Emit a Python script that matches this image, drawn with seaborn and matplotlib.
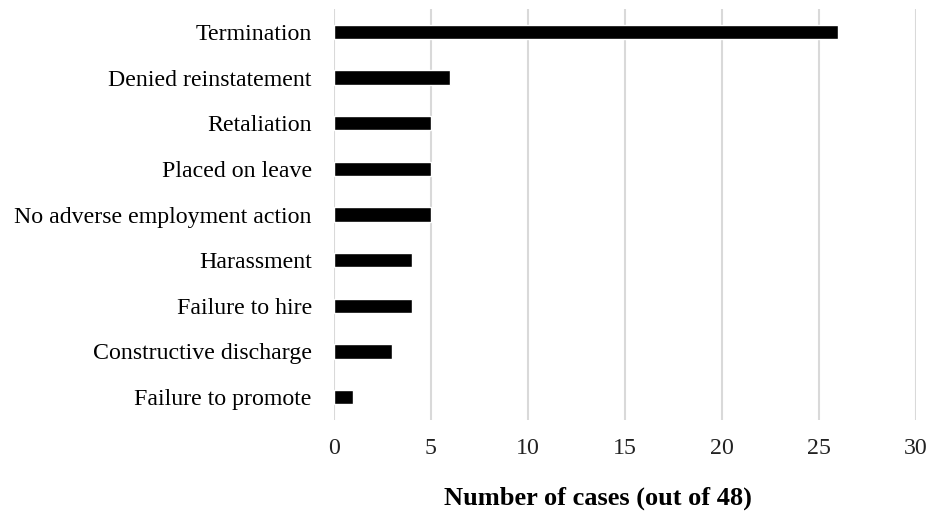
import matplotlib
matplotlib.use("Agg")
import matplotlib.pyplot as plt
import seaborn as sns
import pandas as pd

categories = ["Termination", "Denied reinstatement", "Retaliation", "Placed on leave",
              "No adverse employment action", "Harassment", "Failure to hire",
              "Constructive discharge", "Failure to promote"]
counts = [26, 6, 5, 5, 5, 4, 4, 3, 1]
xticks = [0, 5, 10, 15, 20, 25, 30]
xlabel = "Number of cases (out of 48)"

df = pd.DataFrame({"category": categories, "count": counts})

sns.set_theme(style="white")
plt.rcParams['font.family'] = ['Liberation Serif', 'DejaVu Serif']

fig = plt.figure(figsize=(9.32, 5.12), dpi=100)
ax = fig.add_axes([334/932, 1-420/512, 582/932, 411/512])
ax.set_axisbelow(True)
for x in xticks:
    ax.axvline(x, color="#d9d9d9", linewidth=1.5, zorder=0)
sns.barplot(data=df, x="count", y="category", orient="h", color="black",
            width=0.32, ax=ax, saturation=1, zorder=3)
ax.set_xlim(0, 30)
ax.set_xticks(xticks)
ax.set_xticklabels([str(t) for t in xticks])
for s in ax.spines.values():
    s.set_visible(False)
ax.tick_params(axis="y", length=0, pad=16, labelsize=17.2, labelcolor="black")
ax.tick_params(axis="x", length=0, pad=13, labelsize=17.2, labelcolor="#222222")
ax.set_ylabel("")
ax.set_xlabel(xlabel, fontsize=19, fontweight="bold", color="black", va="center")
ax.xaxis.set_label_coords(0.454, -0.19)
fig.savefig("out.png", dpi=100)
